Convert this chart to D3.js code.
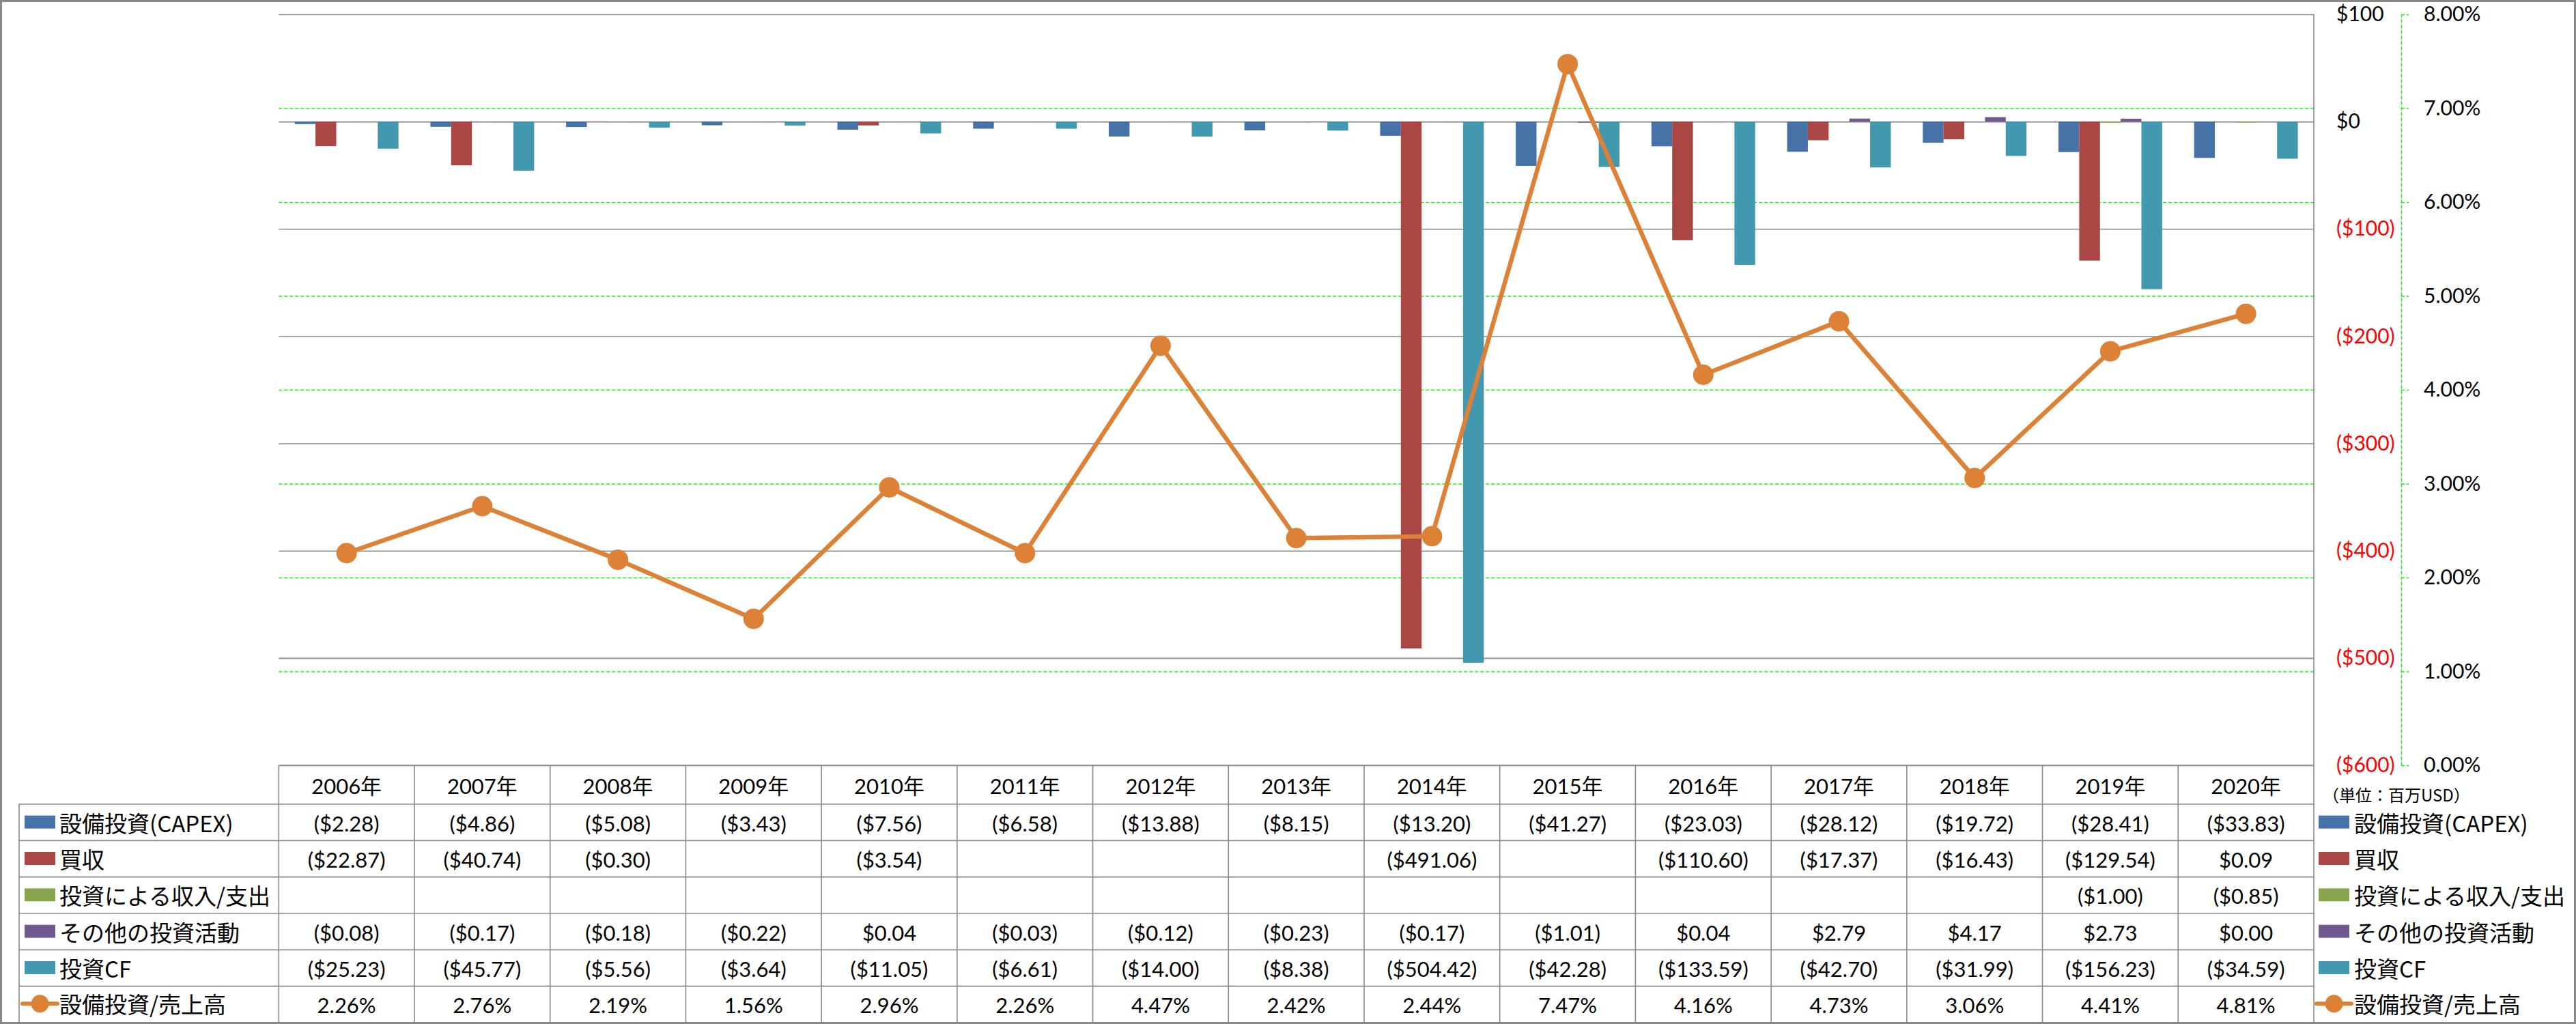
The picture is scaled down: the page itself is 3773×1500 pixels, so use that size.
<!DOCTYPE html>
<html><head><meta charset="utf-8">
<script src="https://cdn.jsdelivr.net/npm/d3@7"></script>
<style>
body{margin:0;background:#fff;}
svg text{font-family:Lato,"Noto Sans CJK JP",sans-serif;fill:#000;}
</style></head><body>
<svg id="c" width="3773" height="1500"></svg>
<script>
// ---------- DATA ----------
const years = ["2006年","2007年","2008年","2009年","2010年","2011年","2012年","2013年","2014年","2015年","2016年","2017年","2018年","2019年","2020年"];
const seriesNames = ["設備投資(CAPEX)","買収","投資による収入/支出","その他の投資活動","投資CF"];
const capex      = [-2.28,-4.86,-5.08,-3.43,-7.56,-6.58,-13.88,-8.15,-13.20,-41.27,-23.03,-28.12,-19.72,-28.41,-33.83];
const acquisition= [-22.87,-40.74,-0.30,null,-3.54,null,null,null,-491.06,null,-110.60,-17.37,-16.43,-129.54,0.09];
const invIncome  = [null,null,null,null,null,null,null,null,null,null,null,null,null,-1.00,-0.85];
const otherInv   = [-0.08,-0.17,-0.18,-0.22,0.04,-0.03,-0.12,-0.23,-0.17,-1.01,0.04,2.79,4.17,2.73,0.00];
const investCF   = [-25.23,-45.77,-5.56,-3.64,-11.05,-6.61,-14.00,-8.38,-504.42,-42.28,-133.59,-42.70,-31.99,-156.23,-34.59];
const ratioName  = "設備投資/売上高";
const ratio      = [2.26,2.76,2.19,1.56,2.96,2.26,4.47,2.42,2.44,7.47,4.16,4.73,3.06,4.41,4.81];
const dollarTicks = [100,0,-100,-200,-300,-400,-500,-600];
const pctTicks = [8,7,6,5,4,3,2,1,0];
const unitLabel = "（単位：百万USD）";
const seriesColors = ["#4572A7","#AA4643","#89A54E","#71588F","#4198AF"];
const lineColor = "#DD8137";

const seriesValues = [capex, acquisition, invIncome, otherInv, investCF];

// ---------- LAYOUT ----------
const W = 3773, H = 1500;
const plotL = 408.3, plotR = 3389, plotT = 21, plotB = 1121;
const tableTop = 1121, headerB = 1178, tableB = 1498, legendL = 28;
const rowH = (tableB - headerB) / 6;
const gray = "#8A8A8A", green = "#00FF00";
const tableFont = 31, legendFont = 33;

const svg = d3.select("#c");

// outer border
svg.append("rect").attr("x",1.5).attr("y",1.5).attr("width",W-3).attr("height",H-3)
  .attr("fill","#fff").attr("stroke","#878787").attr("stroke-width",3);

const x0 = d3.scaleBand().domain(years).range([plotL, plotR]).padding(0);
const x1 = d3.scaleBand().domain(seriesNames).range([0, x0.bandwidth()]).paddingInner(0).paddingOuter(0.77);
const yL = d3.scaleLinear().domain([-600,100]).range([plotB, plotT]);
const yR = d3.scaleLinear().domain([0,8]).range([plotB, plotT]);

const fmtDollar = v => v < 0 ? "($" + Math.abs(v).toFixed(0) + ")" : "$" + v.toFixed(0);
const fmtCell = v => v === null ? "" : (v < 0 ? "($" + Math.abs(v).toFixed(2) + ")" : "$" + v.toFixed(2));

// green % gridlines (dashed)
const gGridR = svg.append("g").attr("transform",`translate(${plotL},0)`)
  .call(d3.axisLeft(yR).tickValues(pctTicks.filter(t=>t>0 && t<8)).tickSize(-(plotR-plotL)).tickFormat(""));
gGridR.select(".domain").remove();
gGridR.selectAll("line").attr("stroke",green).attr("stroke-width",1.4).attr("stroke-dasharray","5,3");

// gray $ gridlines
const gGridL = svg.append("g").attr("transform",`translate(${plotL},0)`)
  .call(d3.axisLeft(yL).tickValues(dollarTicks).tickSize(-(plotR-plotL)).tickFormat(""));
gGridL.select(".domain").remove();
gGridL.selectAll("line").attr("stroke",gray).attr("stroke-width",1.6);

// right border of plot area / table
svg.append("line").attr("x1",plotR).attr("x2",plotR).attr("y1",plotT).attr("y2",tableB)
  .attr("stroke",gray).attr("stroke-width",1.6);

// bars
seriesNames.forEach((name, si) => {
  svg.append("g").selectAll("rect")
    .data(seriesValues[si].map((v,i)=>({v, year: years[i]})).filter(d => d.v !== null && d.v !== 0))
    .join("rect")
    .attr("x", d => x0(d.year) + x1(name))
    .attr("width", x1.bandwidth())
    .attr("y", d => yL(Math.max(0, d.v)))
    .attr("height", d => Math.abs(yL(d.v) - yL(0)))
    .attr("fill", seriesColors[si]);
});

// ratio line
const cx = y => x0(y) + x0.bandwidth()/2;
const line = d3.line().x((d,i)=>cx(years[i])).y(d=>yR(d));
svg.append("path").datum(ratio).attr("d", line).attr("fill","none")
  .attr("stroke", lineColor).attr("stroke-width",6.5).attr("stroke-linejoin","round");
svg.append("g").selectAll("circle").data(ratio).join("circle")
  .attr("cx",(d,i)=>cx(years[i])).attr("cy",d=>yR(d)).attr("r",15).attr("fill",lineColor);

// right $ axis labels
const gAxL = svg.append("g").attr("transform",`translate(3422,0)`)
  .call(d3.axisRight(yL).tickValues(dollarTicks).tickSize(0).tickPadding(0).tickFormat(fmtDollar));
gAxL.select(".domain").remove();
gAxL.selectAll("text").attr("font-size",30).attr("font-family","Lato")
  .style("fill", d => d < 0 ? "#FF0000" : "#000").attr("text-anchor","start");

// right % axis (dashed green line + ticks)
const gAxR = svg.append("g").attr("transform",`translate(3517,0)`)
  .call(d3.axisRight(yR).tickValues(pctTicks).tickSize(11).tickSizeOuter(0).tickPadding(22).tickFormat(d=>d.toFixed(2)+"%"));
gAxR.select(".domain").attr("stroke",green).attr("stroke-width",1.4).attr("stroke-dasharray","5,3");
gAxR.selectAll("line").attr("stroke",green).attr("stroke-width",1.4).attr("stroke-dasharray","5,3");
gAxR.selectAll("text").attr("font-size",30).attr("font-family","Lato").attr("text-anchor","start");

// unit label
svg.append("text").attr("x",3402).attr("y",1163).attr("dominant-baseline","central")
  .attr("font-size",24).style("font-family","'Noto Sans CJK JP'").text(unitLabel);

// ---------- TABLE ----------
const tg = svg.append("g");
tg.append("line").attr("x1",plotL).attr("x2",plotR).attr("y1",tableTop).attr("y2",tableTop)
  .attr("stroke",gray).attr("stroke-width",1.6);
d3.range(7).forEach(r => {
  const y = headerB + r*rowH;
  tg.append("line").attr("x1",legendL).attr("x2",plotR).attr("y1",y).attr("y2",y)
    .attr("stroke",gray).attr("stroke-width",1.6);
});
years.forEach(y => {
  tg.append("line").attr("x1",x0(y)).attr("x2",x0(y)).attr("y1",tableTop).attr("y2",tableB)
    .attr("stroke",gray).attr("stroke-width",1.6);
});
tg.append("line").attr("x1",legendL).attr("x2",legendL).attr("y1",headerB).attr("y2",tableB)
  .attr("stroke",gray).attr("stroke-width",1.6);

tg.selectAll("text.hdr").data(years).join("text").attr("class","hdr")
  .attr("x", d => cx(d)).attr("y", (tableTop+headerB)/2 + 1).attr("text-anchor","middle")
  .attr("dominant-baseline","central").attr("font-size",tableFont).text(d=>d);

seriesNames.forEach((name, si) => {
  const yc = headerB + si*rowH + rowH/2;
  tg.selectAll(null).data(seriesValues[si]).join("text")
    .attr("x",(d,i)=>cx(years[i])).attr("y",yc+1).attr("text-anchor","middle")
    .attr("dominant-baseline","central").attr("font-size",tableFont).text(d=>fmtCell(d));
});
{
  const yc = headerB + 5*rowH + rowH/2;
  tg.selectAll(null).data(ratio).join("text")
    .attr("x",(d,i)=>cx(years[i])).attr("y",yc+1).attr("text-anchor","middle")
    .attr("dominant-baseline","central").attr("font-size",tableFont).text(d=>d.toFixed(2)+"%");
}

function legend(keyX, textX) {
  seriesNames.forEach((name, si) => {
    const yc = headerB + si*rowH + rowH/2;
    svg.append("rect").attr("x",keyX).attr("y",yc-10).attr("width",45).attr("height",19).attr("fill",seriesColors[si]);
    svg.append("text").attr("x",textX).attr("y",yc).attr("dominant-baseline","central")
      .attr("font-size",legendFont).style("font-family","'Noto Sans CJK JP'").text(name);
  });
  const yc = headerB + 5*rowH + rowH/2 - 1;
  svg.append("line").attr("x1",keyX-3).attr("x2",keyX+48).attr("y1",yc).attr("y2",yc)
    .attr("stroke",lineColor).attr("stroke-width",6).attr("stroke-linecap","round");
  svg.append("circle").attr("cx",keyX+22.5).attr("cy",yc).attr("r",13).attr("fill",lineColor);
  svg.append("text").attr("x",textX).attr("y",yc).attr("dominant-baseline","central")
    .attr("font-size",legendFont).style("font-family","'Noto Sans CJK JP'").text(ratioName);
}
legend(36, 87);
legend(3396, 3448);
</script>
</body></html>
